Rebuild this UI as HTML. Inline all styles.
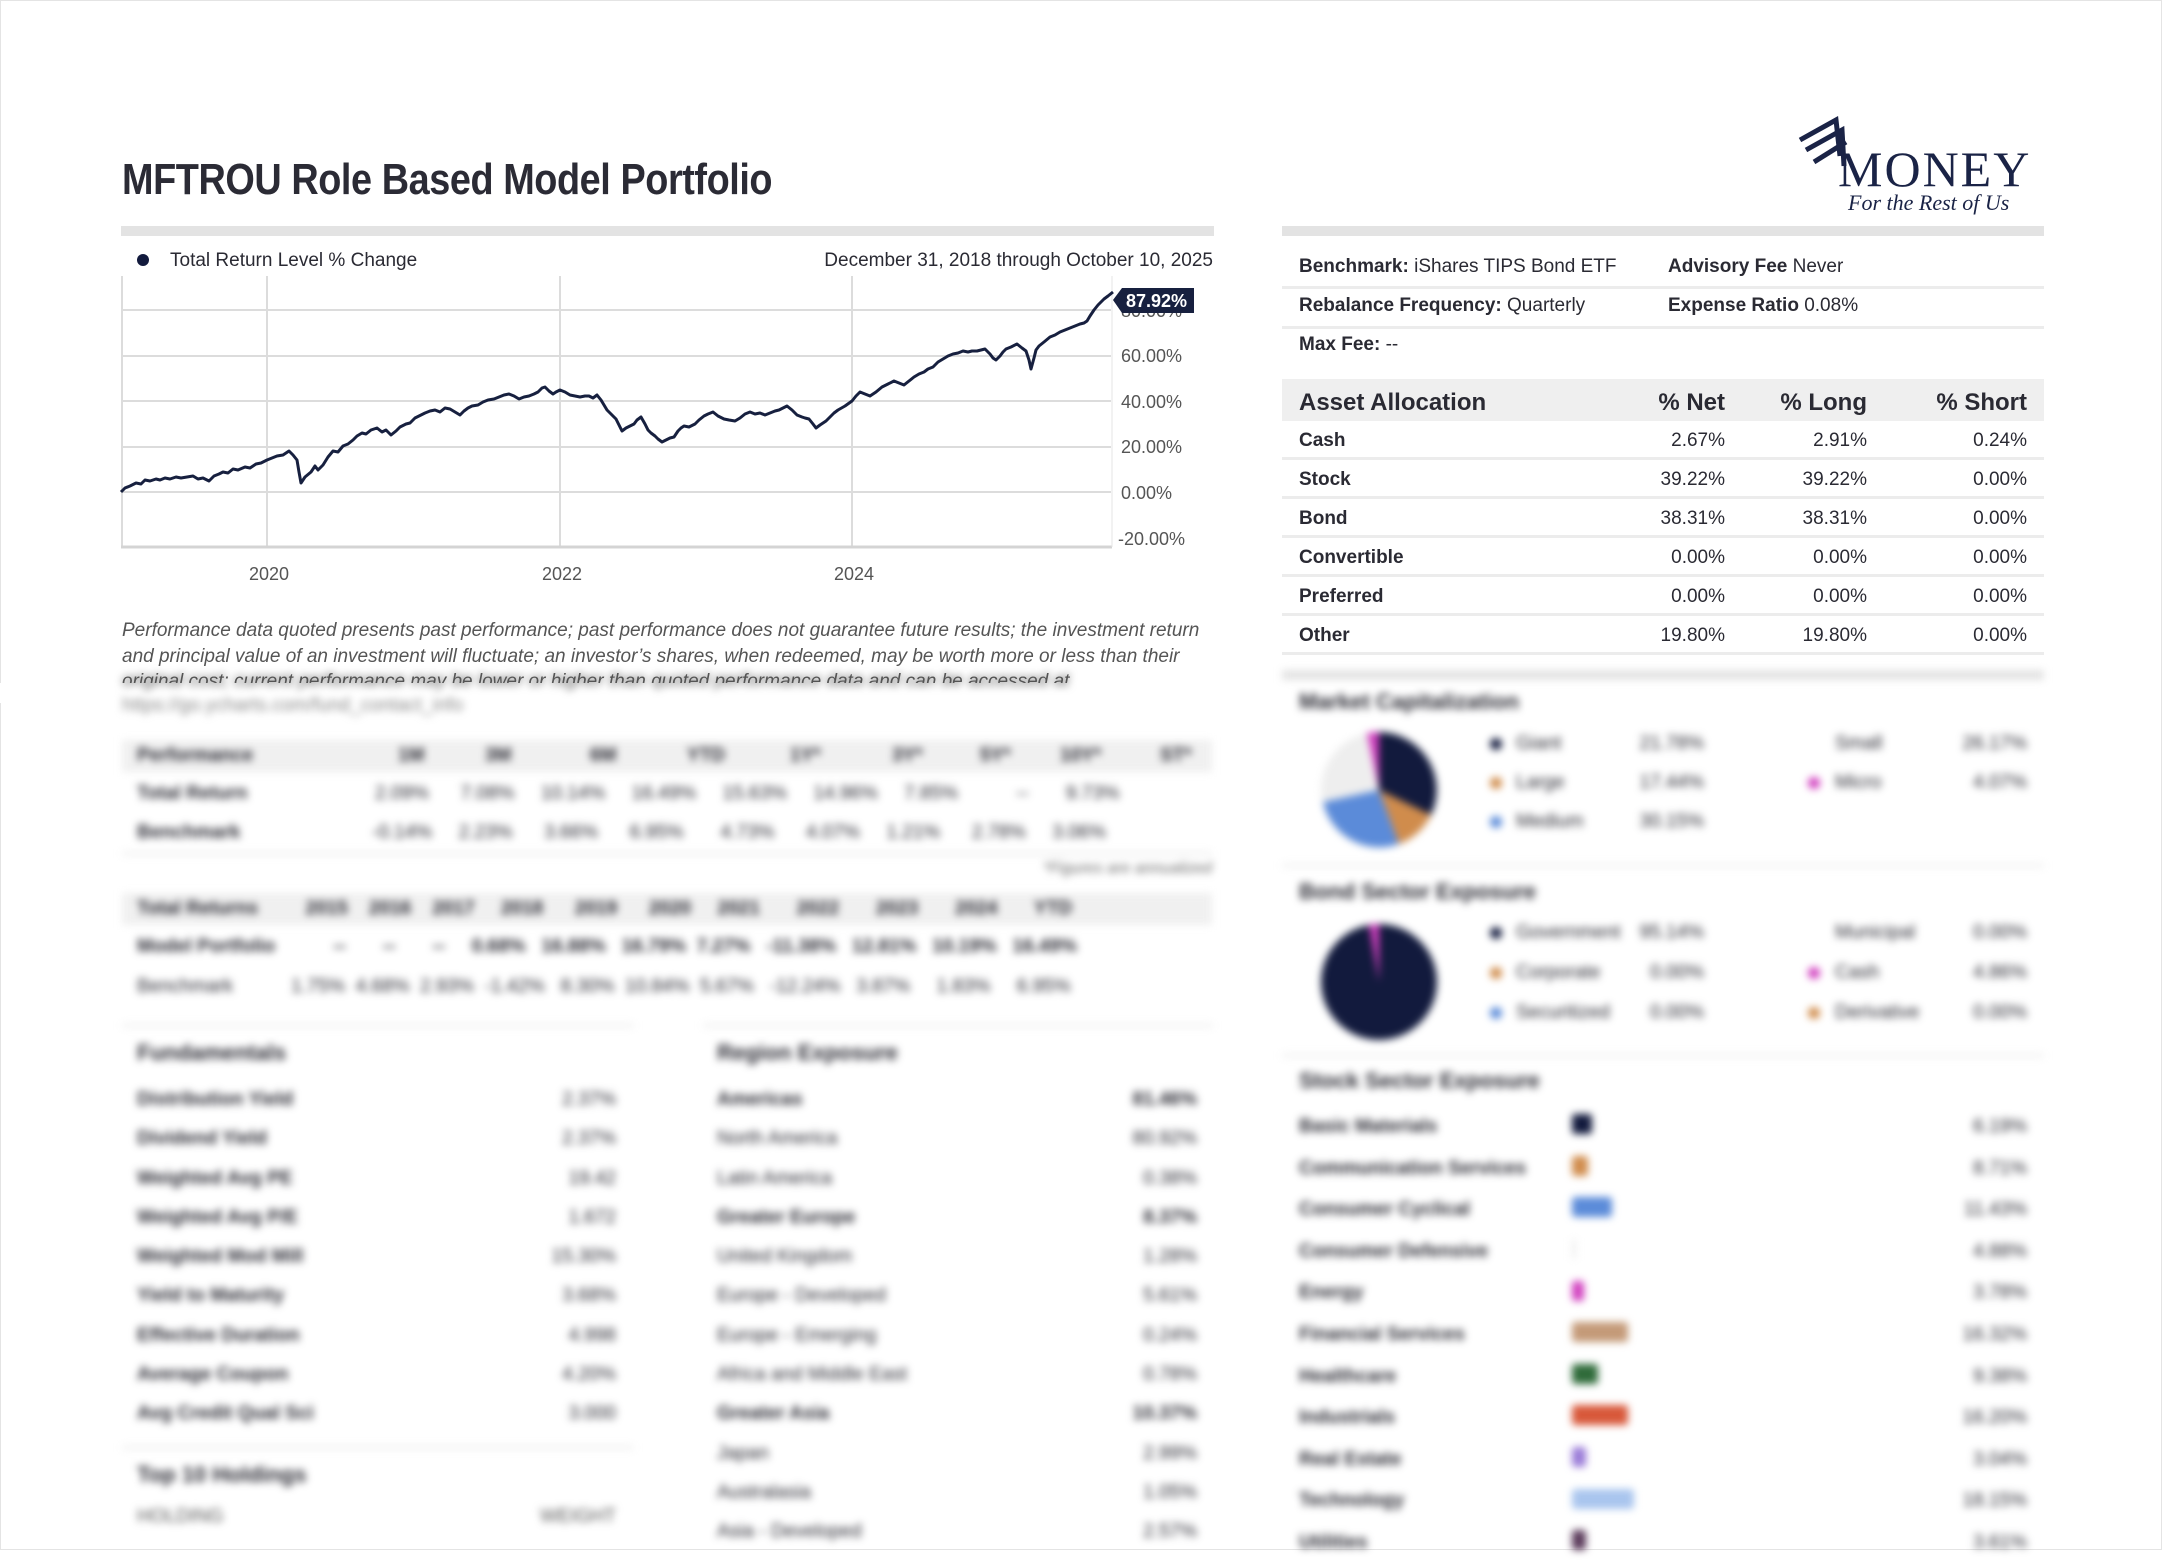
<!DOCTYPE html>
<html><head><meta charset="utf-8">
<style>
*{margin:0;padding:0;box-sizing:border-box}
body{width:2162px;height:1550px;background:#fff;position:relative;overflow:hidden;font-family:"Liberation Sans Narrow","Liberation Sans",sans-serif;color:#2a2a33}
.a{position:absolute;white-space:nowrap}
.r{text-align:right}
.b{font-weight:bold}
.f19{font-size:19px}
.bar{position:absolute;background:#e3e3e3}
.ln{position:absolute;height:3px;background:#ececec}
.blur{position:absolute;left:0;top:0;width:2162px;height:1550px;filter:blur(4px)}
.dot{position:absolute;width:12px;height:12px;border-radius:6px}
.sb{position:absolute;height:20px;border-radius:3px}
</style></head><body>
<div style="position:absolute;left:0;top:0;width:2162px;height:1550px;border:1px solid #e4e4e4"></div>
<div class="a b" style="left:122px;top:155px;font-size:44px;color:#2b2b35;letter-spacing:-0.5px;transform:scaleX(0.86);transform-origin:0 0">MFTROU Role Based Model Portfolio</div>

<div class="a" style="left:1796px;top:116px">
<svg width="70" height="70" viewBox="0 0 70 70"><g fill="none" stroke="#1a2346" stroke-width="5"><path d="M4 24 L40 4 L44 40"/><path d="M10 34 L46 14 L48 50"/><path d="M18 46 L50 26"/></g></svg></div>
<div class="a" style="left:1838px;top:140px;font-family:'Liberation Serif',serif;font-size:50px;color:#1a2346;letter-spacing:2px">MONEY</div>
<div class="a" style="left:1848px;top:190px;font-family:'Liberation Serif',serif;font-style:italic;font-size:22px;color:#1a2346">For the Rest of Us</div>

<div class="bar" style="left:121px;top:226px;width:1093px;height:10px"></div>
<div class="bar" style="left:1282px;top:226px;width:762px;height:10px"></div>

<div class="dot" style="left:137px;top:254px;background:#121a3d"></div>
<div class="a f19" style="left:170px;top:250px">Total Return Level % Change</div>
<div class="a f19 r" style="right:949px;top:250px">December 31, 2018 through October 10, 2025</div>

<svg class="a" style="left:0;top:0" width="2162" height="600">
<g stroke="#dcdcdc" stroke-width="2">
<line x1="121" y1="310" x2="1111" y2="310"/><line x1="121" y1="356" x2="1111" y2="356"/><line x1="121" y1="401" x2="1111" y2="401"/><line x1="121" y1="447" x2="1111" y2="447"/><line x1="121" y1="492" x2="1111" y2="492"/>
<line x1="267" y1="276" x2="267" y2="547"/><line x1="560" y1="276" x2="560" y2="547"/><line x1="852" y1="276" x2="852" y2="547"/><line x1="122" y1="276" x2="122" y2="547"/>
</g>
<line x1="121" y1="547" x2="1112" y2="547" stroke="#d4d4d4" stroke-width="3"/>
<line x1="1112" y1="276" x2="1112" y2="547" stroke="#e6e6e6" stroke-width="1"/>
<polyline fill="none" stroke="#17203f" stroke-width="3" stroke-linejoin="round" points="121,492 125,488 130,486 136,483 141,484 145,480 150,481 156,479 160,480 165,478 170,479 176,477 181,478 187,477 193,476 198,479 203,478 209,481 214,476 219,474 223,472 228,473 233,469 238,470 245,467 250,468 256,464 261,463 267,460 272,458 277,456 283,455 289,451 293,455 297,460 299,472 301,483 305,477 311,472 315,466 318,470 323,465 328,457 333,451 338,452 343,446 348,444 353,440 357,436 362,433 366,434 371,430 377,428 382,432 386,430 391,435 396,431 400,427 406,424 410,423 415,418 421,415 425,413 430,411 435,410 440,412 445,408 450,409 455,412 460,415 464,411 468,408 472,406 478,405 483,402 488,400 494,399 499,397 504,395 509,394 514,396 519,399 524,397 529,396 534,394 538,392 542,388 545,387 549,391 553,394 556,392 560,390 565,392 570,395 575,396 580,397 585,396 589,396 593,398 597,395 601,400 604,405 607,410 611,414 616,419 619,425 622,431 626,428 630,426 634,424 637,420 641,417 645,424 648,430 651,433 655,436 658,439 662,442 666,440 670,438 674,437 678,431 681,428 684,426 689,427 695,424 699,420 704,416 708,414 713,412 718,416 724,419 729,420 735,421 740,418 745,414 750,412 755,414 760,413 765,415 770,413 775,411 779,410 783,408 787,406 792,410 797,415 802,417 805,418 809,419 813,424 816,428 820,425 826,421 831,416 834,413 838,410 845,406 852,401 856,396 860,392 865,394 870,396 876,392 882,387 888,384 894,381 899,383 904,385 909,381 914,377 919,374 924,372 928,369 933,367 938,362 943,359 948,356 953,354 958,353 963,351 968,352 972,351 977,351 981,350 985,349 990,354 993,358 996,360 1000,356 1003,352 1006,349 1011,347 1017,344 1022,348 1026,351 1029,360 1031,369 1034,358 1036,350 1039,346 1044,342 1050,337 1055,335 1060,332 1065,330 1070,328 1075,326 1080,324 1084,323 1087,321 1090,316 1094,310 1098,305 1101,302 1104,299 1108,296 1113,292"/>
<g font-family="Liberation Sans Narrow,Liberation Sans,sans-serif" font-size="18" fill="#555">
<text x="1121" y="317">80.00%</text>
<text x="1121" y="362">60.00%</text><text x="1121" y="408">40.00%</text><text x="1121" y="453">20.00%</text><text x="1121" y="499">0.00%</text><text x="1118" y="545">-20.00%</text>
<text x="249" y="580">2020</text><text x="542" y="580">2022</text><text x="834" y="580">2024</text>
</g>
<path d="M1113,300 L1122,288 L1194,288 L1194,313 L1122,313 Z" fill="#17203f"/>
<text x="1126" y="307" font-family="Liberation Sans Narrow,Liberation Sans,sans-serif" font-size="18" font-weight="bold" fill="#fff">87.92%</text>
</svg>

<div class="a f19" style="left:122px;top:618px;font-style:italic;color:#555;line-height:25.5px;white-space:normal;width:1100px">Performance data quoted presents past performance; past performance does not guarantee future results; the investment return<br>and principal value of an investment will fluctuate; an investor’s shares, when redeemed, may be worth more or less than their<br>original cost; current performance may be lower or higher than quoted performance data and can be accessed at</div>
<div style="position:absolute;left:0;top:683px;width:1240px;height:20px;background:#fff"></div>

<div class="a f19" style="left:1299px;top:256px"><b>Benchmark:</b> iShares TIPS Bond ETF</div>
<div class="a f19" style="left:1668px;top:256px"><b>Advisory Fee</b> Never</div>
<div class="ln" style="left:1282px;top:286px;width:762px"></div>
<div class="a f19" style="left:1299px;top:295px"><b>Rebalance Frequency:</b> Quarterly</div>
<div class="a f19" style="left:1668px;top:295px"><b>Expense Ratio</b> 0.08%</div>
<div class="ln" style="left:1282px;top:326px;width:762px"></div>
<div class="a f19" style="left:1299px;top:334px"><b>Max Fee:</b> --</div>

<div class="bar" style="left:1282px;top:379px;width:762px;height:42px;background:#efefef"></div>
<div class="a b" style="left:1299px;top:389px;font-size:24px">Asset Allocation</div>
<div class="a b r" style="right:437px;top:389px;font-size:24px">% Net</div>
<div class="a b r" style="right:295px;top:389px;font-size:24px">% Long</div>
<div class="a b r" style="right:135px;top:389px;font-size:24px">% Short</div>

<div class="a f19 b" style="left:1299px;top:430px">Cash</div><div class="a f19 r" style="right:437px;top:430px">2.67%</div><div class="a f19 r" style="right:295px;top:430px">2.91%</div><div class="a f19 r" style="right:135px;top:430px">0.24%</div>
<div class="ln" style="left:1282px;top:457px;width:762px"></div>
<div class="a f19 b" style="left:1299px;top:469px">Stock</div><div class="a f19 r" style="right:437px;top:469px">39.22%</div><div class="a f19 r" style="right:295px;top:469px">39.22%</div><div class="a f19 r" style="right:135px;top:469px">0.00%</div>
<div class="ln" style="left:1282px;top:496px;width:762px"></div>
<div class="a f19 b" style="left:1299px;top:508px">Bond</div><div class="a f19 r" style="right:437px;top:508px">38.31%</div><div class="a f19 r" style="right:295px;top:508px">38.31%</div><div class="a f19 r" style="right:135px;top:508px">0.00%</div>
<div class="ln" style="left:1282px;top:535px;width:762px"></div>
<div class="a f19 b" style="left:1299px;top:547px">Convertible</div><div class="a f19 r" style="right:437px;top:547px">0.00%</div><div class="a f19 r" style="right:295px;top:547px">0.00%</div><div class="a f19 r" style="right:135px;top:547px">0.00%</div>
<div class="ln" style="left:1282px;top:574px;width:762px"></div>
<div class="a f19 b" style="left:1299px;top:586px">Preferred</div><div class="a f19 r" style="right:437px;top:586px">0.00%</div><div class="a f19 r" style="right:295px;top:586px">0.00%</div><div class="a f19 r" style="right:135px;top:586px">0.00%</div>
<div class="ln" style="left:1282px;top:613px;width:762px"></div>
<div class="a f19 b" style="left:1299px;top:625px">Other</div><div class="a f19 r" style="right:437px;top:625px">19.80%</div><div class="a f19 r" style="right:295px;top:625px">19.80%</div><div class="a f19 r" style="right:135px;top:625px">0.00%</div>
<div class="ln" style="left:1282px;top:652px;width:762px"></div>

<div class="blur">
<div class="a f19" style="left:122px;top:670px;font-style:italic;color:#555">original cost; current performance may be lower or higher than quoted performance data and can be accessed at</div>
<div class="a f19" style="left:122px;top:695px;color:#888">https://go.ycharts.com/fund_contact_info</div>
<div class="bar" style="left:1282px;top:670px;width:762px;height:10px"></div>

<div class="bar" style="left:122px;top:740px;width:1090px;height:32px;background:#f0f0f0"></div>
<div class="a f19 b" style="left:137px;top:745px">Performance</div>
<div class="a f19 b" style="left:398px;top:745px">1M</div><div class="a f19 b" style="left:485px;top:745px">3M</div><div class="a f19 b" style="left:590px;top:745px">6M</div><div class="a f19 b" style="left:687px;top:745px">YTD</div><div class="a f19 b" style="left:790px;top:745px">1Y*</div><div class="a f19 b" style="left:892px;top:745px">3Y*</div><div class="a f19 b" style="left:980px;top:745px">5Y*</div><div class="a f19 b" style="left:1060px;top:745px">10Y*</div><div class="a f19 b" style="left:1160px;top:745px">ST*</div>
<div class="a f19 b" style="left:137px;top:783px">Total Return</div>
<div class="a f19" style="left:375px;top:783px">2.09% &nbsp; &nbsp; &nbsp;7.08% &nbsp; &nbsp; 10.14% &nbsp; &nbsp; 16.49% &nbsp; &nbsp; 15.63% &nbsp; &nbsp; 14.96% &nbsp; &nbsp; 7.85% &nbsp; &nbsp; &nbsp; &nbsp; &nbsp; -- &nbsp; &nbsp; &nbsp; 9.73%</div>
<div class="a f19 b" style="left:137px;top:822px">Benchmark</div>
<div class="a f19" style="left:372px;top:822px">-0.14% &nbsp; &nbsp; 2.23% &nbsp; &nbsp; &nbsp;3.66% &nbsp; &nbsp; &nbsp;6.95% &nbsp; &nbsp; &nbsp; 4.73% &nbsp; &nbsp; &nbsp;4.07% &nbsp; &nbsp; 1.21% &nbsp; &nbsp; &nbsp;2.78% &nbsp; &nbsp; 3.06%</div>
<div class="ln" style="left:122px;top:852px;width:1090px"></div>
<div class="a r" style="right:950px;top:860px;font-size:16px;font-style:italic;color:#666">*Figures are annualized</div>

<div class="bar" style="left:122px;top:893px;width:1090px;height:32px;background:#f0f0f0"></div>
<div class="a f19 b" style="left:137px;top:898px">Total Returns &nbsp; &nbsp; &nbsp; &nbsp; 2015 &nbsp; &nbsp;2016 &nbsp; &nbsp;2017 &nbsp; &nbsp; 2018 &nbsp; &nbsp; &nbsp;2019 &nbsp; &nbsp; &nbsp;2020 &nbsp; &nbsp; 2021 &nbsp; &nbsp; &nbsp; 2022 &nbsp; &nbsp; &nbsp; 2023 &nbsp; &nbsp; &nbsp; 2024 &nbsp; &nbsp; &nbsp; YTD</div>
<div class="a f19 b" style="left:137px;top:936px">Model Portfolio &nbsp; &nbsp; &nbsp; &nbsp; &nbsp; -- &nbsp; &nbsp; &nbsp; -- &nbsp; &nbsp; &nbsp; -- &nbsp; &nbsp; 0.68% &nbsp; 16.88% &nbsp; 16.79% &nbsp;7.27% &nbsp; -11.38% &nbsp; 12.81% &nbsp; 10.19% &nbsp; 16.49%</div>
<div class="a f19" style="left:137px;top:976px">Benchmark &nbsp; &nbsp; &nbsp; &nbsp; &nbsp; 1.75% &nbsp;4.68% &nbsp;2.93% &nbsp;-1.42% &nbsp; 8.30% &nbsp;10.84% &nbsp;5.67% &nbsp; -12.24% &nbsp; 3.87% &nbsp; &nbsp; 1.83% &nbsp; &nbsp; 6.95%</div>

<div class="ln" style="left:122px;top:1024px;width:512px"></div>
<div class="ln" style="left:703px;top:1024px;width:510px"></div>
<div class="a b" style="left:137px;top:1040px;font-size:22px">Fundamentals</div>
<div class="a b" style="left:717px;top:1040px;font-size:22px">Region Exposure</div>

<div class="a f19 b" style="left:137px;top:1080px;line-height:39.3px">Distribution Yield<br>Dividend Yield<br>Weighted Avg PE<br>Weighted Avg P/E<br>Weighted Mod Mill<br>Yield to Maturity<br>Effective Duration<br>Average Coupon<br>Avg Credit Qual Sci</div>
<div class="a f19 r" style="right:1546px;top:1080px;line-height:39.3px">2.37%<br>2.37%<br>19.42<br>1.672<br>15.30%<br>3.68%<br>4.998<br>4.20%<br>3.000</div>
<div class="a f19" style="left:717px;top:1080px;line-height:39.3px"><b>Americas</b><br>North America<br>Latin America<br><b>Greater Europe</b><br>United Kingdom<br>Europe - Developed<br>Europe - Emerging<br>Africa and Middle East<br><b>Greater Asia</b><br>Japan<br>Australasia<br>Asia - Developed</div>
<div class="a f19 r" style="right:965px;top:1080px;line-height:39.3px"><b>81.46%</b><br>80.92%<br>0.38%<br><b>8.37%</b><br>1.28%<br>5.61%<br>0.24%<br>0.78%<br><b>10.37%</b><br>2.99%<br>1.05%<br>2.57%</div>
<div class="ln" style="left:122px;top:1446px;width:512px"></div>
<div class="a b" style="left:137px;top:1462px;font-size:22px">Top 10 Holdings</div>
<div class="a f19" style="left:137px;top:1506px;color:#555">HOLDING</div>
<div class="a f19 r" style="right:1546px;top:1506px;color:#555">WEIGHT</div>

<div class="a b" style="left:1299px;top:689px;font-size:22px">Market Capitalization</div>
<svg class="a" style="left:1319px;top:730px" width="120" height="120" viewBox="-60 -60 120 120">
<circle r="58" fill="#eeeeee"/>
<path d="M0,0 L0,-58 A58,58 0 0,1 52,25 Z" fill="#121a3d"/>
<path d="M0,0 L52,25 A58,58 0 0,1 20,54 Z" fill="#d08c4c"/>
<path d="M0,0 L20,54 A58,58 0 0,1 -56,12 Z" fill="#5b8bd9"/>
<path d="M0,0 L-12,-57 A58,58 0 0,1 0,-58 Z" fill="#d13fbf"/>
</svg>
<div class="dot" style="left:1490px;top:738px;background:#121a3d"></div><div class="a f19" style="left:1516px;top:733px">Giant</div><div class="a f19 r" style="right:458px;top:733px">21.78%</div>
<div class="a f19" style="left:1835px;top:733px">Small</div><div class="a f19 r" style="right:135px;top:733px">26.17%</div>
<div class="dot" style="left:1490px;top:777px;background:#d08c4c"></div><div class="a f19" style="left:1516px;top:772px">Large</div><div class="a f19 r" style="right:458px;top:772px">17.44%</div>
<div class="dot" style="left:1808px;top:777px;background:#d13fbf"></div><div class="a f19" style="left:1835px;top:772px">Micro</div><div class="a f19 r" style="right:135px;top:772px">4.07%</div>
<div class="dot" style="left:1490px;top:816px;background:#5b8bd9"></div><div class="a f19" style="left:1516px;top:811px">Medium</div><div class="a f19 r" style="right:458px;top:811px">30.15%</div>
<div class="ln" style="left:1282px;top:864px;width:762px"></div>

<div class="a b" style="left:1299px;top:879px;font-size:22px">Bond Sector Exposure</div>
<svg class="a" style="left:1319px;top:922px" width="120" height="120" viewBox="-60 -60 120 120">
<circle r="58" fill="#121a3d"/>
<path d="M0,0 L-10,-57 A58,58 0 0,1 0,-58 Z" fill="#d13fbf"/>
</svg>
<div class="dot" style="left:1490px;top:927px;background:#121a3d"></div><div class="a f19" style="left:1516px;top:922px">Government</div><div class="a f19 r" style="right:458px;top:922px">95.14%</div>
<div class="a f19" style="left:1835px;top:922px">Municipal</div><div class="a f19 r" style="right:135px;top:922px">0.00%</div>
<div class="dot" style="left:1490px;top:967px;background:#d08c4c"></div><div class="a f19" style="left:1516px;top:962px">Corporate</div><div class="a f19 r" style="right:458px;top:962px">0.00%</div>
<div class="dot" style="left:1808px;top:967px;background:#d13fbf"></div><div class="a f19" style="left:1835px;top:962px">Cash</div><div class="a f19 r" style="right:135px;top:962px">4.86%</div>
<div class="dot" style="left:1490px;top:1007px;background:#5b8bd9"></div><div class="a f19" style="left:1516px;top:1002px">Securitized</div><div class="a f19 r" style="right:458px;top:1002px">0.00%</div>
<div class="dot" style="left:1808px;top:1007px;background:#d08c4c"></div><div class="a f19" style="left:1835px;top:1002px">Derivative</div><div class="a f19 r" style="right:135px;top:1002px">0.00%</div>
<div class="ln" style="left:1282px;top:1054px;width:762px"></div>

<div class="a b" style="left:1299px;top:1068px;font-size:22px">Stock Sector Exposure</div>
<div class="a f19 b" style="left:1299px;top:1106px;line-height:41.6px">Basic Materials<br>Communication Services<br>Consumer Cyclical<br>Consumer Defensive<br>Energy<br>Financial Services<br>Healthcare<br>Industrials<br>Real Estate<br>Technology<br>Utilities</div>
<div class="a f19 r" style="right:135px;top:1106px;line-height:41.6px">6.19%<br>8.71%<br>11.43%<br>4.88%<br>3.78%<br>16.32%<br>9.38%<br>16.20%<br>3.04%<br>18.15%<br>3.61%</div>
<div class="sb" style="left:1572px;top:1114px;width:20px;background:#121a3d"></div>
<div class="sb" style="left:1572px;top:1156px;width:16px;background:#d08c4c"></div>
<div class="sb" style="left:1572px;top:1197px;width:40px;background:#5b8bd9"></div>
<div class="sb" style="left:1572px;top:1239px;width:4px;background:#eee"></div>
<div class="sb" style="left:1572px;top:1281px;width:12px;background:#d13fbf"></div>
<div class="sb" style="left:1572px;top:1322px;width:56px;background:#c49a78"></div>
<div class="sb" style="left:1572px;top:1364px;width:26px;background:#2f6b3a"></div>
<div class="sb" style="left:1572px;top:1405px;width:56px;background:#d8583a"></div>
<div class="sb" style="left:1572px;top:1447px;width:14px;background:#9a7bd8"></div>
<div class="sb" style="left:1572px;top:1489px;width:62px;background:#a9c5ee"></div>
<div class="sb" style="left:1572px;top:1530px;width:14px;background:#5a3a5a"></div>
</div>
</body></html>
